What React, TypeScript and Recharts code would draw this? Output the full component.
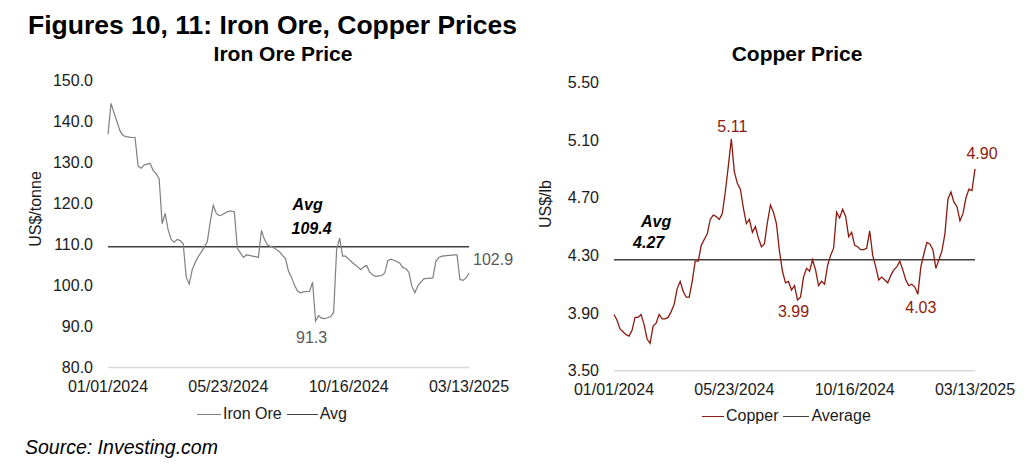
import React from 'react';
import { LineChart, Line, XAxis, YAxis } from 'recharts';

// x positions are evenly spaced samples (0..120) between the first and last date
const xTickIdx = [0, 40, 80, 120];
const xTickLabels = ['01/01/2024', '05/23/2024', '10/16/2024', '03/13/2025'];

const ironTicks = [80, 90, 100, 110, 120, 130, 140, 150];
const copperTicks = [3.5, 3.9, 4.3, 4.7, 5.1, 5.5];

const ironAvg = 109.4;
const copperAvg = 4.27;

const ironOre = [
  136.8, 144.3, 142.0, 139.8, 137.6, 136.5, 136.2, 136.1, 136.0, 136.0,
  129.0, 128.5, 129.3, 129.5, 129.7, 128.0, 127.2, 126.0, 115.0, 117.5,
  113.5, 111.2, 110.5, 111.2, 110.9, 110.1, 102.0, 100.3, 103.8, 105.6,
  107.0, 108.1, 109.3, 110.6, 115.5, 119.5, 117.5, 117.0, 117.2, 117.7,
  118.0, 118.1, 117.9, 109.0, 107.9, 106.8, 107.4, 107.3, 107.1, 107.0,
  106.8, 113.4, 111.2, 109.9, 109.5, 109.3, 108.7, 108.2, 107.3, 106.5,
  103.4, 102.0, 100.0, 98.6, 98.2, 98.4, 98.5, 98.5, 100.8, 91.3,
  92.6, 92.0, 91.9, 92.1, 92.4, 93.4, 108.7, 111.5, 107.1, 107.1,
  106.4, 105.7, 105.1, 104.5, 103.8, 104.5, 104.8, 103.2, 102.5, 102.2,
  102.3, 102.4, 103.0, 106.0, 106.4, 106.1, 105.8, 105.4, 104.3, 104.1,
  103.2, 99.8, 98.2, 99.9, 100.8, 101.6, 101.7, 101.7, 101.8, 105.9,
  106.8, 107.1, 107.2, 107.3, 107.3, 107.4, 107.4, 101.4, 101.2, 101.8,
  102.9,
];

const copper = [
  3.89, 3.85, 3.79, 3.77, 3.75, 3.74, 3.78, 3.87, 3.87, 3.89,
  3.82, 3.72, 3.69, 3.81, 3.83, 3.89, 3.86, 3.86, 3.87, 3.91,
  3.96, 4.07, 4.12, 4.05, 4.01, 4.01, 4.12, 4.26, 4.26, 4.37,
  4.41, 4.45, 4.55, 4.58, 4.57, 4.55, 4.59, 4.74, 4.92, 5.11,
  4.88, 4.80, 4.76, 4.63, 4.52, 4.55, 4.46, 4.50, 4.42, 4.36,
  4.38, 4.53, 4.65, 4.60, 4.52, 4.33, 4.19, 4.11, 4.12, 4.06,
  4.09, 3.99, 4.01, 4.15, 4.21, 4.19, 4.27, 4.20, 4.09, 4.12,
  4.10, 4.23, 4.30, 4.35, 4.60, 4.56, 4.62, 4.57, 4.43, 4.46,
  4.37, 4.36, 4.34, 4.34, 4.35, 4.47, 4.30, 4.22, 4.13, 4.15,
  4.13, 4.11, 4.16, 4.20, 4.22, 4.26, 4.20, 4.13, 4.09, 4.10,
  4.08, 4.03, 4.22, 4.31, 4.39, 4.38, 4.34, 4.21, 4.27, 4.33,
  4.45, 4.69, 4.74, 4.67, 4.64, 4.54, 4.59, 4.70, 4.76, 4.75,
  4.90,
];

const ironData = ironOre.map((v, i) => ({ i, v, avg: ironAvg }));
const copperData = copper.map((v, i) => ({ i, v, avg: copperAvg }));

const FONT = '"Liberation Sans", Arial, sans-serif';
const GRAY = '#7f7f7f';
const RED = '#8c1a10';
const AVG = '#404040';

const tickStyle = { fontSize: 16, fill: '#1a1a1a', fontFamily: FONT };
const fmtDate = (v: number) => xTickLabels[xTickIdx.indexOf(v)] ?? '';

// which points carry a value label, and where
const ironMarks: Record<number, { dx: number; dy: number; anchor: string }> = {
  69: { dx: -4, dy: 16, anchor: 'middle' },
  120: { dx: 4, dy: -14, anchor: 'start' },
};
const copperMarks: Record<number, { dx: number; dy: number; anchor: string }> = {
  39: { dx: 1, dy: -12, anchor: 'middle' },
  61: { dx: -4, dy: 11, anchor: 'middle' },
  101: { dx: 3, dy: 13, anchor: 'middle' },
  120: { dx: 7, dy: -15, anchor: 'middle' },
};

function pointLabel(marks: typeof ironMarks, color: string, digits: number) {
  return (p: any) => {
    const m = marks[p.index];
    if (!m) return <g key={p.index} />;
    return (
      <text key={p.index} x={p.x + m.dx} y={p.y + m.dy} textAnchor={m.anchor}
        dominantBaseline="central" fontSize={16} fill={color} fontFamily={FONT}>
        {Number(p.value).toFixed(digits)}
      </text>
    );
  };
}

function avgLabel(at: number, lines: { dx: number; dy: number; text: string }[]) {
  return (p: any) => {
    if (p.index !== at) return <g key={p.index} />;
    return (
      <g key={p.index}>
        {lines.map((l) => (
          <text key={l.text} x={p.x + l.dx} y={p.y + l.dy} dominantBaseline="central"
            fontSize={16} fontWeight="bold" fontStyle="italic" fill="#000" fontFamily={FONT}>
            {l.text}
          </text>
        ))}
      </g>
    );
  };
}

function LegendRow({ left, top, items }: { left: number; top: number; items: { name: string; color: string; w: number }[] }) {
  return (
    <div style={{ position: 'absolute', left, top, display: 'flex', alignItems: 'center', fontSize: 16, fontFamily: FONT, color: '#1a1a1a' }}>
      {items.map((it, k) => (
        <div key={it.name} style={{ display: 'flex', alignItems: 'center', marginLeft: k ? 5 : 0 }}>
          <div style={{ width: it.w, height: 0, borderTop: `1.5px solid ${it.color}`, marginRight: 2 }} />
          <span>{it.name}</span>
        </div>
      ))}
    </div>
  );
}

export default function App() {
  return (
    <div style={{ position: 'absolute', left: 0, top: 0, width: 1029, height: 471, background: '#fff', fontFamily: FONT }}>
      <svg width={1029} height={471} style={{ position: 'absolute', left: 0, top: 0 }}>
        <text x={28} y={34} fontSize={26.5} fontWeight="bold" fill="#000" fontFamily={FONT}>
          Figures 10, 11: Iron Ore, Copper Prices
        </text>
        <text x={283} y={61} textAnchor="middle" fontSize={21} fontWeight="bold" fill="#000" fontFamily={FONT}>
          Iron Ore Price
        </text>
        <text x={797} y={61} textAnchor="middle" fontSize={21} fontWeight="bold" fill="#000" fontFamily={FONT}>
          Copper Price
        </text>
        <text transform="translate(41,209) rotate(-90)" textAnchor="middle" fontSize={16} fill="#1a1a1a" fontFamily={FONT}>
          US$/tonne
        </text>
        <text transform="translate(551,204) rotate(-90)" textAnchor="middle" fontSize={16} fill="#1a1a1a" fontFamily={FONT}>
          US$/lb
        </text>
        <text x={25} y={454} fontSize={19.5} fontStyle="italic" fill="#000" fontFamily={FONT}>
          Source: Investing.com
        </text>
      </svg>

      <div style={{ position: 'absolute', left: 0, top: 0 }}>
        <LineChart width={520} height={471} data={ironData} margin={{ top: 80, right: 51, bottom: 73.5, left: 0 }}>
          <XAxis dataKey="i" type="number" domain={[0, 120]} ticks={xTickIdx} tickFormatter={fmtDate}
            tick={tickStyle} tickLine={false} tickSize={0} tickMargin={13} height={30}
            axisLine={{ stroke: '#d9d9d9', strokeWidth: 1.5 }} interval={0} />
          <YAxis domain={[80, 150]} ticks={ironTicks} tickFormatter={(v: number) => v.toFixed(1)}
            tick={tickStyle} tickLine={false} tickSize={0} tickMargin={15} axisLine={false} width={108} />
          <Line dataKey="avg" stroke={AVG} strokeWidth={1.5} dot={false} isAnimationActive={false}
            label={avgLabel(61, [{ dx: 1, dy: -42, text: 'Avg' }, { dx: 0, dy: -18, text: '109.4' }])} />
          <Line dataKey="v" stroke={GRAY} strokeWidth={1.2} dot={false} isAnimationActive={false}
            label={pointLabel(ironMarks, '#595959', 1)} />
        </LineChart>
      </div>

      <div style={{ position: 'absolute', left: 520, top: 0 }}>
        <LineChart width={509} height={471} data={copperData} margin={{ top: 82.5, right: 54, bottom: 70.3, left: 0 }}>
          <XAxis dataKey="i" type="number" domain={[0, 120]} ticks={xTickIdx} tickFormatter={fmtDate}
            tick={tickStyle} tickLine={false} tickSize={0} tickMargin={13} height={30}
            axisLine={{ stroke: '#d9d9d9', strokeWidth: 1.5 }} interval={0} />
          <YAxis domain={[3.5, 5.5]} ticks={copperTicks} tickFormatter={(v: number) => v.toFixed(2)}
            tick={tickStyle} tickLine={false} tickSize={0} tickMargin={15} axisLine={false} width={94} />
          <Line dataKey="avg" stroke={AVG} strokeWidth={1.5} dot={false} isAnimationActive={false}
            label={avgLabel(6, [{ dx: 9, dy: -38, text: 'Avg' }, { dx: 1, dy: -17, text: '4.27' }])} />
          <Line dataKey="v" stroke={RED} strokeWidth={1.3} dot={false} isAnimationActive={false}
            label={pointLabel(copperMarks, '#8c1a10', 2)} />
        </LineChart>
      </div>

      <LegendRow left={197} top={405} items={[{ name: 'Iron Ore', color: GRAY, w: 24 }, { name: 'Avg', color: AVG, w: 31 }]} />
      <LegendRow left={702} top={407} items={[{ name: 'Copper', color: RED, w: 22 }, { name: 'Average', color: AVG, w: 26 }]} />
    </div>
  );
}
